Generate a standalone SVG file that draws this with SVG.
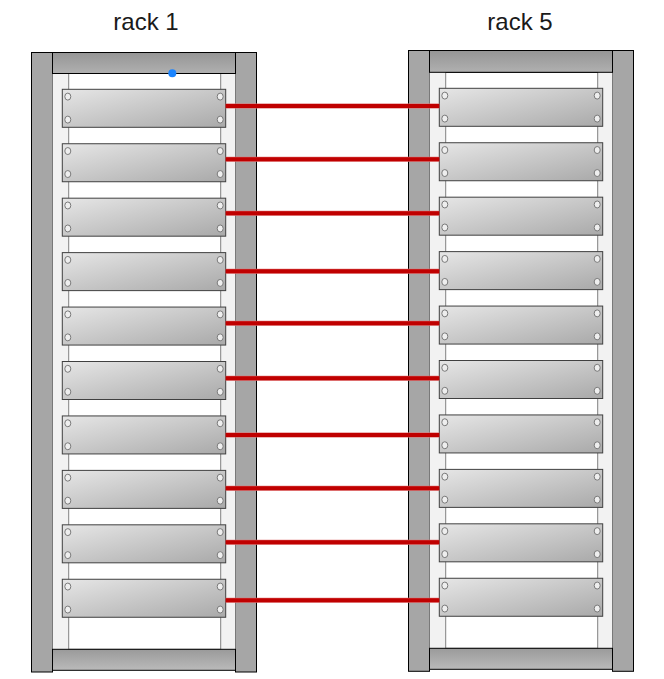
<svg xmlns="http://www.w3.org/2000/svg" width="664" height="679" viewBox="0 0 664 679">
<style>
.post{fill:#a6a6a6;stroke:#000;stroke-width:1}
.bar{fill:url(#barG);stroke:#000;stroke-width:1}
.barb{fill:url(#barB);stroke:#000;stroke-width:1}
.inner{fill:#f2f2f2}
.white{fill:#fff;stroke:#808080;stroke-width:1}
.srv{fill:url(#srvG);stroke:#404040;stroke-width:1}
.screw{fill:#eeeeee;stroke:#7a7a7a;stroke-width:1}
.title{font-family:"Liberation Sans",Arial,sans-serif;font-size:24px;fill:#1a1a1a;text-anchor:middle}
.cable{stroke:#c00000;stroke-width:4;fill:none}
.cableb{stroke:#e07070;stroke-width:5;fill:none}
</style>
<defs>
<linearGradient id="barG" x1="0" y1="0" x2="0" y2="1">
<stop offset="0" stop-color="#959595"/><stop offset="1" stop-color="#b0b0b0"/>
</linearGradient>
<linearGradient id="barB" x1="0" y1="0" x2="0" y2="1">
<stop offset="0" stop-color="#9a9a9a"/><stop offset="1" stop-color="#bababa"/>
</linearGradient>
<linearGradient id="srvG" x1="0" y1="0" x2="1" y2="1">
<stop offset="0" stop-color="#e6e6e6"/><stop offset="1" stop-color="#a9a9a9"/>
</linearGradient>
<g id="server">
<rect class="srv" x="0" y="0" width="163.4" height="38"/>
<ellipse class="screw" cx="5.5" cy="7.3" rx="3" ry="3.5"/>
<ellipse class="screw" cx="5.5" cy="30.3" rx="3" ry="3.5"/>
<ellipse class="screw" cx="157.9" cy="7.3" rx="3" ry="3.5"/>
<ellipse class="screw" cx="157.9" cy="30.3" rx="3" ry="3.5"/>
</g>
</defs>
<rect width="664" height="679" fill="#fff"/>
<text class="title" x="146" y="30">rack 1</text>
<text class="title" x="520" y="30">rack 5</text>
<g id="rack1">
<rect class="post" x="31.5" y="52.5" width="21" height="619.5"/>
<rect class="post" x="235.5" y="52.5" width="21" height="619.5"/>
<rect class="inner" x="52.5" y="73.3" width="183" height="576"/>
<rect class="white" x="68.7" y="73.3" width="152" height="576"/>
<line x1="68.7" y1="73.3" x2="220.7" y2="73.3" stroke="#000" stroke-width="1"/>
<rect class="bar" x="52.5" y="52.5" width="183" height="21"/>
<rect class="barb" x="52.5" y="649.3" width="183" height="21"/>
<use href="#server" x="62.3" y="89.3"/>
<use href="#server" x="62.3" y="143.74"/>
<use href="#server" x="62.3" y="198.18"/>
<use href="#server" x="62.3" y="252.62"/>
<use href="#server" x="62.3" y="307.06"/>
<use href="#server" x="62.3" y="361.5"/>
<use href="#server" x="62.3" y="415.94"/>
<use href="#server" x="62.3" y="470.38"/>
<use href="#server" x="62.3" y="524.82"/>
<use href="#server" x="62.3" y="579.26"/>
</g>
<g id="rack5">
<rect class="post" x="408.5" y="50.5" width="21" height="620.8"/>
<rect class="post" x="612.5" y="50.5" width="21" height="620.8"/>
<rect class="inner" x="429.5" y="72.3" width="183" height="576"/>
<rect class="white" x="445.7" y="72.3" width="152" height="576"/>
<line x1="445.7" y1="72.3" x2="597.7" y2="72.3" stroke="#000" stroke-width="1"/>
<rect class="bar" x="429.5" y="50.5" width="183" height="21.8"/>
<rect class="barb" x="429.5" y="648.3" width="183" height="21"/>
<use href="#server" x="439.3" y="88.3"/>
<use href="#server" x="439.3" y="142.74"/>
<use href="#server" x="439.3" y="197.18"/>
<use href="#server" x="439.3" y="251.62"/>
<use href="#server" x="439.3" y="306.06"/>
<use href="#server" x="439.3" y="360.5"/>
<use href="#server" x="439.3" y="414.94"/>
<use href="#server" x="439.3" y="469.38"/>
<use href="#server" x="439.3" y="523.82"/>
<use href="#server" x="439.3" y="578.26"/>
</g>
<g id="connectors">
<path class="cableb" d="M225.7 106H439.3M225.7 159.3H439.3M225.7 213.3H439.3M225.7 271.3H439.3M225.7 323.3H439.3M225.7 378.3H439.3M225.7 435H439.3M225.7 488.3H439.3M225.7 542.3H439.3M225.7 600.3H439.3"/>
<path class="cable" d="M225.7 106H439.3M225.7 159.3H439.3M225.7 213.3H439.3M225.7 271.3H439.3M225.7 323.3H439.3M225.7 378.3H439.3M225.7 435H439.3M225.7 488.3H439.3M225.7 542.3H439.3M225.7 600.3H439.3"/>
</g>
<circle id="handle" cx="172.3" cy="73.3" r="4" fill="#1a84ff"/>
</svg>
